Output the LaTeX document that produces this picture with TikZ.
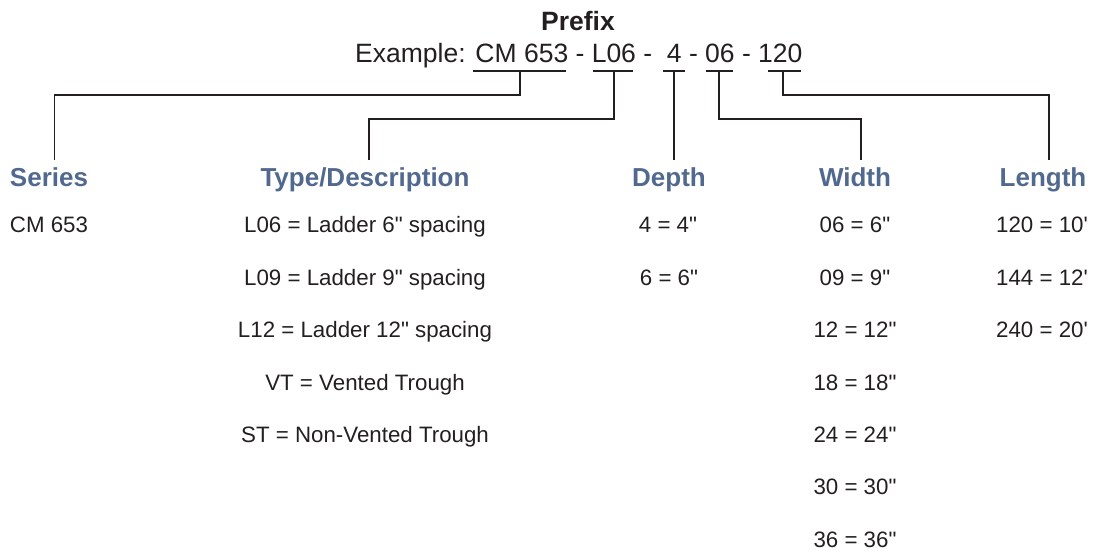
\documentclass[tikz,border=0pt]{standalone}
\usepackage{fontspec}
\setmainfont{Liberation Sans}[Ligatures=TeXOff]
\definecolor{hdr}{HTML}{52698F}
\definecolor{ink}{HTML}{231F20}
\begin{document}
\begin{tikzpicture}[x=1pt,y=-1pt,
  conn/.style={draw=ink,line width=1.9pt},
  uline/.style={draw=ink,line width=1.9pt},
  hdrtext/.style={anchor=base,inner xsep=0pt,inner ysep=7pt,text=hdr,font=\fontsize{26}{30}\selectfont\bfseries},
  body/.style={anchor=base,inner sep=0pt,text=ink,font=\fontsize{22.3}{26}\selectfont},
  titletext/.style={anchor=base,inner sep=0pt,text=ink,font=\fontsize{26.5}{30}\selectfont}]
\useasboundingbox (0,0) rectangle (1099,550);
\node[titletext,font=\fontsize{26.5}{30}\selectfont\bfseries] (title) at (578,30) {Prefix};
\node[titletext,anchor=base west] (example) at (355,62) {Example: CM 653 - L06 -\ \ 4 - 06 - 120};
% underlines
\draw[uline] (473,71) -- (566,71);
\draw[uline] (593,71) -- (633,71);
\draw[uline] (663,71) -- (685,71);
\draw[uline] (706,71) -- (733,71);
\draw[uline] (768,71) -- (801,71);
\coordinate (ucm) at (520,71);
\coordinate (ul06) at (614,71);
\coordinate (u4) at (674,71);
\coordinate (u06) at (719,71);
\coordinate (u120) at (783,71);
% headers
\node[hdrtext] (series) at (49,186) {Series};
\node[hdrtext] (type) at (365,186) {Type/Description};
\node[hdrtext] (depth) at (669,186) {Depth};
\node[hdrtext] (width) at (855,186) {Width};
\node[hdrtext] (length) at (1043,186) {Length};
% connectors
\draw[conn] (ucm) -- ++(0,24) -| ([xshift=5.5pt]series.north);
\draw[conn] (ul06) -- ++(0,48) -| ([xshift=4pt]type.north);
\draw[conn] (u4) -- (u4 |- depth.north);
\draw[conn] (u06) -- ++(0,48) -| ([xshift=6pt]width.north);
\draw[conn] (u120) -- ++(0,24) -| ([xshift=6pt]length.north);
% series column
\node[body] (s1) at (49,232) {CM 653};
% type column
\node[body] (t1) at (365,232) {L06 = Ladder 6" spacing};
\node[body] (t2) at (365,285) {L09 = Ladder 9" spacing};
\node[body] (t3) at (365,337) {L12 = Ladder 12" spacing};
\node[body] (t4) at (365,390) {VT = Vented Trough};
\node[body] (t5) at (365,442) {ST = Non-Vented Trough};
% depth column
\node[body] (d1) at (668,232) {4 = 4"};
\node[body] (d2) at (669,285) {6 = 6"};
% width column
\node[body] (w1) at (855,232) {06 = 6"};
\node[body] (w2) at (855,285) {09 = 9"};
\node[body] (w3) at (855,337) {12 = 12"};
\node[body] (w4) at (855,390) {18 = 18"};
\node[body] (w5) at (855,442) {24 = 24"};
\node[body] (w6) at (855,494) {30 = 30"};
\node[body] (w7) at (855,547) {36 = 36"};
% length column
\node[body] (l1) at (1042,232) {120 = 10'};
\node[body] (l2) at (1042,285) {144 = 12'};
\node[body] (l3) at (1042,337) {240 = 20'};
\end{tikzpicture}
\end{document}
